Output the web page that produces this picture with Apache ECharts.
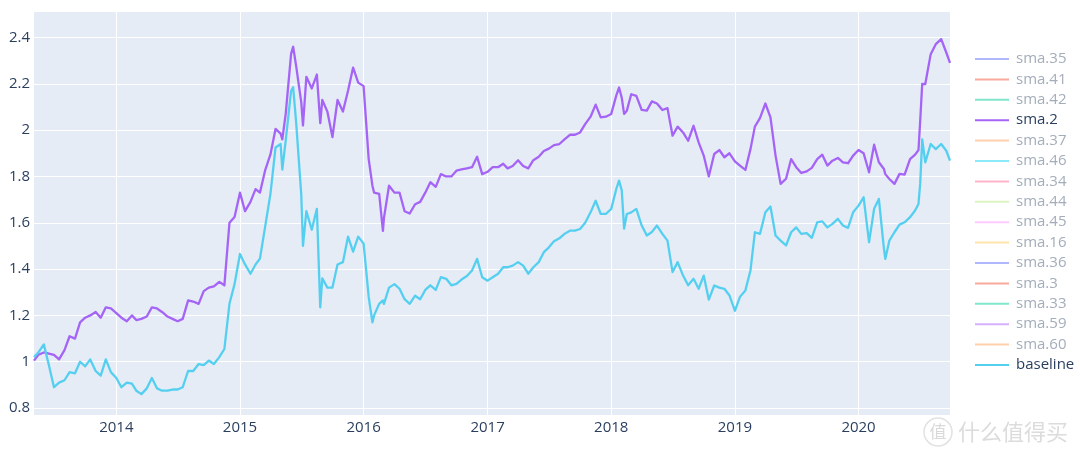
<!DOCTYPE html>
<html>
<head>
<meta charset="utf-8">
<script src="https://cdn.jsdelivr.net/npm/echarts@6/dist/echarts.min.js"></script>
<style>
html,body{margin:0;padding:0;background:#fff;}
#chart{width:1080px;height:457px;}
</style>
</head>
<body>
<div id="chart"></div>
<script>
const dates = [
'2013-05-03','2013-05-16','2013-06-01','2013-06-16','2013-07-01','2013-07-16','2013-08-01','2013-08-16','2013-09-01','2013-09-16','2013-10-01','2013-10-16','2013-11-01','2013-11-16','2013-12-01','2013-12-16',
'2014-01-01','2014-01-16','2014-02-01','2014-02-16','2014-03-01','2014-03-16','2014-04-01','2014-04-16','2014-05-01','2014-05-16','2014-06-01','2014-06-16','2014-07-01','2014-07-16','2014-08-01','2014-08-16','2014-09-01','2014-09-16','2014-10-01','2014-10-16','2014-11-01','2014-11-16','2014-12-01','2014-12-16',
'2015-01-01','2015-01-16','2015-02-01','2015-02-16','2015-03-01','2015-03-16','2015-04-01','2015-04-16','2015-05-01','2015-05-06','2015-05-16','2015-06-01','2015-06-07','2015-06-16','2015-07-01','2015-07-06','2015-07-16','2015-08-01','2015-08-16','2015-08-26','2015-09-01','2015-09-16','2015-10-01','2015-10-16','2015-11-01','2015-11-16','2015-12-01','2015-12-16',
'2016-01-01','2016-01-16','2016-01-27','2016-02-01','2016-02-16','2016-02-27','2016-03-01','2016-03-16','2016-04-01','2016-04-16','2016-05-01','2016-05-16','2016-06-01','2016-06-16','2016-07-01','2016-07-16','2016-08-01','2016-08-16','2016-09-01','2016-09-16','2016-10-01','2016-10-16','2016-11-01','2016-11-16','2016-12-01','2016-12-16',
'2017-01-01','2017-01-16','2017-02-01','2017-02-16','2017-03-01','2017-03-16','2017-04-01','2017-04-16','2017-05-01','2017-05-16','2017-06-01','2017-06-16','2017-07-01','2017-07-16','2017-08-01','2017-08-16','2017-09-01','2017-09-16','2017-10-01','2017-10-16','2017-11-01','2017-11-16','2017-12-01','2017-12-16',
'2018-01-01','2018-01-16','2018-01-24','2018-02-01','2018-02-08','2018-02-16','2018-03-01','2018-03-16','2018-04-01','2018-04-16','2018-05-01','2018-05-16','2018-06-01','2018-06-16','2018-07-01','2018-07-16','2018-08-01','2018-08-16','2018-09-01','2018-09-16','2018-10-01','2018-10-16','2018-11-01','2018-11-16','2018-12-01','2018-12-16',
'2019-01-01','2019-01-16','2019-02-01','2019-02-16','2019-03-01','2019-03-16','2019-04-01','2019-04-16','2019-05-01','2019-05-16','2019-06-01','2019-06-16','2019-07-01','2019-07-16','2019-08-01','2019-08-16','2019-09-01','2019-09-16','2019-10-01','2019-10-16','2019-11-01','2019-11-16','2019-12-01','2019-12-16',
'2020-01-01','2020-01-16','2020-02-01','2020-02-16','2020-03-01','2020-03-16','2020-03-20','2020-04-01','2020-04-16','2020-05-01','2020-05-16','2020-06-01','2020-06-16','2020-06-26','2020-07-01','2020-07-07','2020-07-16','2020-08-01','2020-08-16','2020-09-01','2020-09-16','2020-09-27'
];

const sma2 = [
1.005,1.03,1.04,1.035,1.03,1.01,1.05,1.11,1.10,1.17,1.19,1.20,1.215,1.19,1.235,1.23,
1.21,1.19,1.175,1.20,1.18,1.185,1.195,1.235,1.23,1.215,1.195,1.185,1.175,1.185,1.265,1.26,1.25,1.305,1.32,1.325,1.345,1.33,1.60,1.625,
1.73,1.65,1.69,1.745,1.73,1.825,1.895,2.005,1.985,1.96,2.07,2.33,2.36,2.275,2.12,2.02,2.23,2.18,2.24,2.03,2.13,2.08,1.97,2.13,2.08,2.17,2.27,2.205,
2.19,1.875,1.76,1.73,1.725,1.565,1.62,1.76,1.73,1.73,1.65,1.64,1.68,1.69,1.73,1.775,1.755,1.81,1.80,1.80,1.825,1.83,1.835,1.84,1.885,1.81,
1.82,1.84,1.84,1.855,1.835,1.845,1.87,1.845,1.835,1.87,1.885,1.91,1.92,1.935,1.94,1.96,1.98,1.98,1.99,2.026,2.058,2.11,2.055,2.058,
2.07,2.15,2.184,2.14,2.07,2.084,2.155,2.148,2.087,2.084,2.124,2.115,2.087,2.095,1.976,2.015,1.99,1.954,2.019,1.947,1.89,1.80,1.897,1.914,1.883,1.90,
1.865,1.847,1.828,1.918,2.015,2.052,2.115,2.055,1.89,1.768,1.79,1.875,1.84,1.815,1.822,1.837,1.875,1.894,1.847,1.868,1.88,1.861,1.857,1.89,
1.914,1.90,1.818,1.937,1.861,1.832,1.81,1.789,1.768,1.811,1.808,1.875,1.894,1.914,2.04,2.20,2.199,2.328,2.371,2.393,2.335,2.29
];

const baseline = [
1.02,1.04,1.075,0.985,0.89,0.91,0.92,0.955,0.95,1.0,0.98,1.01,0.96,0.94,1.01,0.955,
0.93,0.89,0.91,0.905,0.875,0.86,0.885,0.93,0.885,0.875,0.875,0.88,0.88,0.89,0.96,0.96,0.99,0.985,1.005,0.99,1.02,1.055,1.25,1.335,
1.465,1.42,1.38,1.42,1.445,1.58,1.725,1.925,1.94,1.83,1.955,2.17,2.185,2.03,1.72,1.50,1.65,1.57,1.66,1.235,1.36,1.32,1.32,1.42,1.43,1.54,1.475,1.54,
1.51,1.28,1.17,1.20,1.25,1.265,1.25,1.32,1.335,1.315,1.27,1.25,1.285,1.27,1.31,1.33,1.31,1.365,1.358,1.33,1.336,1.355,1.37,1.394,1.444,1.365,
1.35,1.365,1.38,1.408,1.408,1.415,1.43,1.415,1.38,1.408,1.43,1.473,1.494,1.52,1.533,1.552,1.566,1.566,1.573,1.60,1.645,1.695,1.638,1.638,
1.66,1.746,1.782,1.74,1.575,1.638,1.645,1.66,1.588,1.545,1.56,1.588,1.552,1.523,1.387,1.43,1.372,1.33,1.358,1.315,1.372,1.268,1.329,1.32,1.315,1.286,
1.22,1.28,1.308,1.394,1.559,1.552,1.645,1.67,1.545,1.523,1.502,1.559,1.58,1.552,1.555,1.535,1.602,1.606,1.58,1.595,1.617,1.588,1.578,1.645,
1.674,1.71,1.516,1.66,1.703,1.487,1.444,1.523,1.559,1.592,1.602,1.624,1.653,1.681,1.77,1.96,1.861,1.94,1.918,1.94,1.911,1.868
];

const legendNames = ['sma.35','sma.41','sma.42','sma.2','sma.37','sma.46','sma.34','sma.44','sma.45','sma.16','sma.36','sma.3','sma.33','sma.59','sma.60','baseline'];
const yearLabelFmt = '{yyyy}';

const seriesData = {
  'sma.2': sma2,
  'baseline': baseline
};

const fadedColors = {
  'sma.35':'#b1b7fd','sma.41':'#f7aa9d','sma.42':'#80e6cb','sma.37':'#ffd0ad','sma.46':'#8ce9f9',
  'sma.34':'#ffb3c9','sma.44':'#dbf4c0','sma.45':'#ffcbff','sma.16':'#ffe5a9','sma.36':'#b1b7fd',
  'sma.3':'#f7aa9d','sma.33':'#80e6cb','sma.59':'#d5b1fd','sma.60':'#ffd0ad'
};
const fullColors = {'sma.2':'#a564f6','baseline':'#55cff0'};

const series = legendNames.map(name => {
  const vals = seriesData[name];
  const color = vals ? fullColors[name] : fadedColors[name];
  return {
    name: name,
    type: 'line',
    showSymbol: false,
    symbol: 'none',
    color: color,
    lineStyle: {width: 2.3, color: color, join: 'round'},
    itemStyle: {color: color},
    data: vals ? dates.map((d, i) => [d, vals[i]]) : []
  };
});

const chart = echarts.init(document.getElementById('chart'), null, {renderer: 'canvas'});
const YEAR = 365 * 24 * 3600 * 1000;
chart.setOption({
  animation: false,
  backgroundColor: '#ffffff',
  textStyle: {fontFamily: '"Open Sans", verdana, arial, sans-serif'},
  grid: {
    left: 34, right: 130, top: 12, bottom: 42,
    show: true, backgroundColor: '#E5ECF6', borderWidth: 0,
    outerBoundsMode: 'none', containLabel: false
  },
  legend: {
    orient: 'vertical',
    left: 975,
    top: 49,
    padding: 0,
    itemGap: 0.4,
    itemWidth: 34,
    itemHeight: 2,
    icon: 'rect',
    selectedMode: false,
    textStyle: {fontSize: 15, lineHeight: 20, color: '#2a3f5f', padding: [0,0,0,2], fontFamily: '"Open Sans", verdana, arial, sans-serif'},
    data: legendNames.map(n => ({
      name: n,
      textStyle: {color: seriesData[n] ? '#2a3f5f' : '#a4adba'}
    }))
  },
  xAxis: {
    type: 'time',
    min: dates[0],
    max: dates[dates.length - 1],
    minInterval: YEAR,
    maxInterval: YEAR,
    splitNumber: 8,
    axisLine: {show: false},
    axisTick: {show: false},
    axisLabel: {
      formatter: yearLabelFmt,
      color: '#2a3f5f', fontSize: 15, margin: 5,
      showMinLabel: false, showMaxLabel: false,
      fontFamily: '"Open Sans", verdana, arial, sans-serif'
    },
    splitLine: {show: true, lineStyle: {color: '#ffffff', width: 1}, showMinLine: false, showMaxLine: false}
  },
  yAxis: {
    type: 'value',
    min: 0.77,
    max: 2.51,
    splitNumber: 8,
    axisLine: {show: false},
    axisTick: {show: false},
    axisLabel: {
      color: '#2a3f5f', fontSize: 15, margin: 4,
      showMinLabel: false, showMaxLabel: false,
      fontFamily: '"Open Sans", verdana, arial, sans-serif'
    },
    splitLine: {show: true, lineStyle: {color: '#ffffff', width: 1}, showMinLine: false, showMaxLine: false}
  },
  graphic: [
    {type: 'circle', shape: {cx: 938, cy: 432, r: 14}, style: {fill: 'rgba(255,255,255,0.9)', stroke: '#e2e2e2', lineWidth: 1.5}, z: 100},
    {type: 'text', x: 938, y: 432, style: {text: '值', fill: '#d9d9d9', font: '17px "Noto Sans CJK SC"', align: 'center', verticalAlign: 'middle'}, z: 101},
    {type: 'text', x: 958, y: 432, style: {text: '什么值得买', fill: '#dcdcdc', font: '22px "Noto Sans CJK SC"', align: 'left', verticalAlign: 'middle'}, z: 101}
  ],
  series: series
});
</script>
</body>
</html>
